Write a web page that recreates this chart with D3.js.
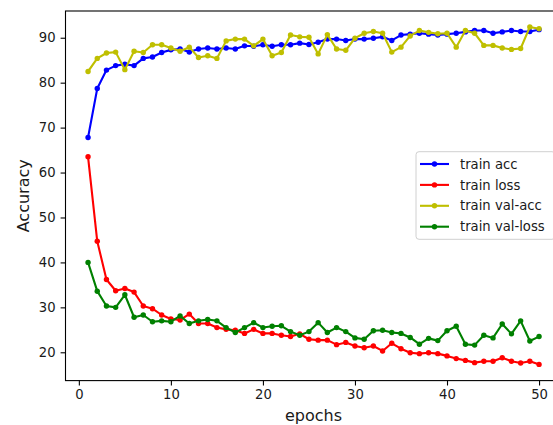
<!DOCTYPE html>
<html>
<head>
<meta charset="utf-8">
<script src="https://cdn.jsdelivr.net/npm/d3@7"></script>
<style>
html,body{margin:0;padding:0;background:#fff;overflow:hidden;}
svg{display:block;font-family:"DejaVu Sans",sans-serif;}
</style>
</head>
<body>
<svg id="chart" width="553" height="425"></svg>
<script>
const epochs = [1,2,3,4,5,6,7,8,9,10,11,12,13,14,15,16,17,18,19,20,21,22,23,24,25,26,27,28,29,30,31,32,33,34,35,36,37,38,39,40,41,42,43,44,45,46,47,48,49,50];
const trainAcc = [67.8,78.7,82.8,83.8,84.1,83.8,85.4,85.7,86.7,87.3,87.5,86.8,87.5,87.7,87.5,87.7,87.5,88.2,88.1,88.45,88.1,88.45,88.45,88.8,88.5,89.0,89.7,89.7,89.4,89.7,89.7,89.9,90.2,89.4,90.6,90.8,91.0,90.8,90.6,90.8,91.0,91.3,91.6,91.6,91.0,91.3,91.6,91.4,91.4,91.8];
const trainLoss = [63.5,44.7,36.2,33.7,34.2,33.4,30.3,29.7,28.3,27.4,27.2,28.5,26.4,26.4,25.5,25.1,24.9,24.2,25.1,24.2,24.2,23.8,23.5,24.1,22.9,22.7,22.7,21.7,22.2,21.4,21.0,21.4,20.3,22.0,20.8,19.9,19.7,19.9,19.7,19.2,18.6,18.2,17.7,18.0,18.0,18.8,18.0,17.6,18.0,17.3];
const valAcc = [82.5,85.4,86.6,86.8,82.9,87.0,86.7,88.45,88.45,87.7,87.0,87.9,85.6,86.0,85.4,89.3,89.7,89.7,88.2,89.7,86.0,86.7,90.6,90.2,90.1,86.4,90.7,87.5,87.2,89.9,91.0,91.4,91.0,86.8,87.9,90.4,91.6,91.2,90.9,91.0,87.9,91.6,91.0,88.3,88.3,87.7,87.4,87.6,92.4,92.0];
const valLoss = [40.0,33.6,30.3,30.0,32.8,27.8,28.3,26.8,27.0,26.8,28.1,26.4,27.0,27.3,27.0,25.5,24.4,25.5,26.6,25.5,25.8,25.9,24.6,23.8,24.6,26.6,24.4,25.5,24.6,23.2,22.9,24.8,24.9,24.4,24.2,23.3,21.8,23.1,22.6,24.8,25.8,21.8,21.6,23.8,23.2,26.3,24.1,27.0,22.5,23.5];
const xTicks = [0,10,20,30,40,50];
const yTicks = [20,30,40,50,60,70,80,90];
const seriesNames = ["train acc","train loss","train val-acc","train val-loss"];
const seriesColors = ["#0000ff","#ff0000","#bfbf00","#008000"];
const xLabel = "epochs";
const yLabel = "Accuracy";

const series = [trainAcc, trainLoss, valAcc, valLoss];
const svg = d3.select("#chart");
const L = 65.5, R = 561.6, T = 11, B = 380.6;
const x = d3.scaleLinear().domain([-1.45, 52.45]).range([L, R]);
const y = d3.scaleLinear().domain([13.7, 95.95]).range([B, T]);

const plot = svg.append("g");
const clip = svg.append("defs").append("clipPath").attr("id","clip")
  .append("rect").attr("x",L).attr("y",T).attr("width",R-L).attr("height",B-T);

const gPlot = plot.append("g").attr("clip-path","url(#clip)");
const line = d3.line().x((d,i)=>x(epochs[i])).y(d=>y(d));
series.forEach((s,k)=>{
  const g = gPlot.append("g");
  g.append("path").datum(s).attr("d", line).attr("fill","none")
    .attr("stroke", seriesColors[k]).attr("stroke-width",2.1)
    .attr("stroke-linejoin","round").attr("stroke-linecap","square");
  g.selectAll("circle").data(s).enter().append("circle")
    .attr("cx",(d,i)=>x(epochs[i])).attr("cy",d=>y(d)).attr("r",2.7)
    .attr("fill",seriesColors[k]);
});

// axes
const xAxis = d3.axisBottom(x).tickValues(xTicks).tickSize(4.9).tickPadding(4.5).tickFormat(d3.format("d"));
const yAxis = d3.axisLeft(y).tickValues(yTicks).tickSize(4.9).tickPadding(5).tickFormat(d3.format("d"));
const gx = svg.append("g").attr("transform",`translate(0,${B})`).call(xAxis);
const gy = svg.append("g").attr("transform",`translate(${L},0)`).call(yAxis);
[gx,gy].forEach(g=>{
  g.select(".domain").remove();
  g.selectAll(".tick line").attr("stroke","#000").attr("stroke-width",1.1);
  g.selectAll(".tick text").attr("fill","#1a1a1a").style("font-size","13.2px").style("font-family","DejaVu Sans");
});
// spines
svg.append("rect").attr("x",L).attr("y",T).attr("width",R-L).attr("height",B-T)
  .attr("fill","none").attr("stroke","#000").attr("stroke-width",1.1);

// labels
svg.append("text").attr("x",(L+R)/2).attr("y",421).attr("text-anchor","middle")
  .style("font-size","16px").attr("fill","#1a1a1a").text(xLabel);
svg.append("text").attr("transform",`translate(29,${(T+B)/2}) rotate(-90)`)
  .attr("text-anchor","middle").style("font-size","16px").attr("fill","#1a1a1a").text(yLabel);

// legend
const lg = svg.append("g");
lg.append("rect").attr("x",416).attr("y",151.7).attr("width",139).attr("height",87.6)
  .attr("rx",3).attr("fill","#fff").attr("fill-opacity",0.8).attr("stroke","#d0d0d0").attr("stroke-width",1);
seriesNames.forEach((n,k)=>{
  const cy = 164 + k*20.9;
  lg.append("line").attr("x1",420).attr("x2",449).attr("y1",cy).attr("y2",cy)
    .attr("stroke",seriesColors[k]).attr("stroke-width",2.1);
  lg.append("circle").attr("cx",434.5).attr("cy",cy).attr("r",2.7).attr("fill",seriesColors[k]);
  lg.append("text").attr("x",460).attr("y",cy).attr("dy","0.35em")
    .style("font-size","13.2px").attr("fill","#1a1a1a").text(n);
});
</script>
</body>
</html>
